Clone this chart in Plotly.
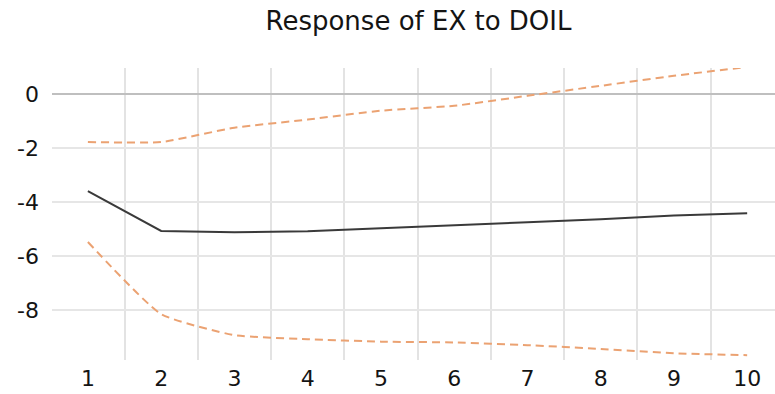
import plotly.graph_objects as go

# Impulse response of EX to a shock in DOIL, with +/- 2 S.E. bands
periods = [1, 2, 3, 4, 5, 6, 7, 8, 9, 10]
response = [-3.6, -5.07, -5.12, -5.08, -4.97, -4.85, -4.75, -4.64, -4.5, -4.42]
upper_band = [-1.78, -1.78, -1.25, -0.95, -0.62, -0.44, -0.07, 0.3, 0.67, 1.0]
lower_band = [-5.48, -8.15, -8.93, -9.08, -9.17, -9.2, -9.3, -9.44, -9.6, -9.67]

y_ticks = [0, -2, -4, -6, -8]

band_color = "#EBA272"
line_color = "#3a3a3a"
font_family = "DejaVu Sans"

fig = go.Figure()
fig.add_trace(go.Scatter(
    x=periods, y=upper_band, mode="lines",
    line=dict(color=band_color, width=2, dash="8px,5px", shape="spline", smoothing=0.5),
    hoverinfo="skip",
))
fig.add_trace(go.Scatter(
    x=periods, y=lower_band, mode="lines",
    line=dict(color=band_color, width=2, dash="8px,5px", shape="spline", smoothing=0.5),
    hoverinfo="skip",
))
fig.add_trace(go.Scatter(
    x=periods, y=response, mode="lines",
    line=dict(color=line_color, width=2),
))

fig.update_layout(
    width=775, height=394,
    margin=dict(l=52, r=0, t=68, b=34),
    paper_bgcolor="white", plot_bgcolor="white",
    showlegend=False,
    font=dict(family=font_family, color="#141414"),
    title=dict(
        text="Response of EX to DOIL",
        x=0.54, xanchor="center", xref="container",
        y=0.947, yanchor="middle",
        font=dict(size=26, family=font_family, color="#141414"),
    ),
    xaxis=dict(
        range=[0.51, 10.38],
        tickvals=periods,
        ticktext=[str(p) for p in periods],
        showgrid=False,
        zeroline=False,
        showline=False,
        ticks="",
        ticklabelstandoff=3,
        tickfont=dict(size=22),
        minor=dict(tick0=0.5, dtick=1, showgrid=True, gridcolor="#e3e3e3", gridwidth=2),
    ),
    yaxis=dict(
        range=[-9.85, 0.96],
        tickvals=y_ticks,
        ticktext=[str(v) for v in y_ticks],
        showgrid=True,
        gridcolor="#e6e6e6",
        gridwidth=2,
        zeroline=True,
        zerolinecolor="#bfbfbf",
        zerolinewidth=2,
        ticks="",
        ticklabelstandoff=12,
        tickfont=dict(size=22),
    ),
)

fig.write_html("out.html")
